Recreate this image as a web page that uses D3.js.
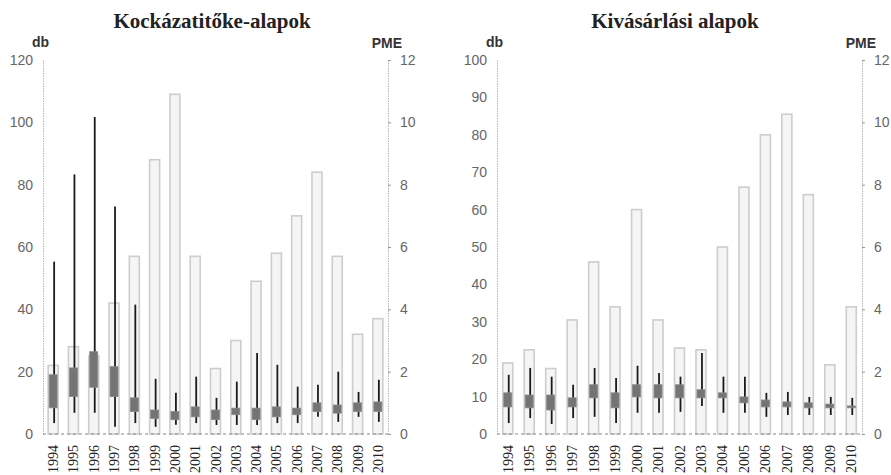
<!DOCTYPE html>
<html>
<head>
<meta charset="utf-8">
<script src="https://cdn.jsdelivr.net/npm/d3@7"></script>
<style>
	body { margin: 0; background: #fff; }
	svg { display: block; }
</style>
</head>
<body>
<svg id="chart" width="891" height="475"></svg>
<script>
const years = ["1994","1995","1996","1997","1998","1999","2000","2001","2002","2003","2004","2005","2006","2007","2008","2009","2010"]

// left panel - Kockázatitőke-alapok
const vcCount = [22, 28, 25, 42, 57, 88, 109, 57, 21, 30, 49, 58, 70, 84, 57, 32, 37]
const vcLow   = [0.35, 0.68, 0.68, 0.23, 0.35, 0.23, 0.30, 0.35, 0.29, 0.29, 0.29, 0.35, 0.35, 0.55, 0.39, 0.55, 0.39]
const vcQ1    = [0.84, 1.20, 1.50, 1.20, 0.72, 0.50, 0.46, 0.55, 0.46, 0.62, 0.46, 0.55, 0.62, 0.72, 0.67, 0.72, 0.72]
const vcQ3    = [1.90, 2.12, 2.64, 2.16, 1.16, 0.77, 0.72, 0.87, 0.77, 0.83, 0.83, 0.87, 0.83, 1.00, 0.93, 1.00, 1.03]
const vcHigh  = [5.53, 8.33, 10.17, 7.30, 4.15, 1.77, 1.32, 1.84, 1.16, 1.68, 2.60, 2.22, 1.52, 1.58, 2.00, 1.35, 1.74]

// right panel - Kivásárlási alapok
const boCount = [19, 22.5, 17.5, 30.5, 46, 34, 60, 30.5, 23, 22.5, 50, 66, 80, 85.5, 64, 18.5, 34]
const boLow   = [0.35, 0.51, 0.32, 0.51, 0.55, 0.35, 0.68, 0.68, 0.71, 0.90, 0.68, 0.68, 0.55, 0.61, 0.61, 0.61, 0.61]
const boQ1    = [0.87, 0.84, 0.77, 0.87, 1.16, 0.84, 1.19, 1.16, 1.16, 1.16, 1.16, 1.00, 0.87, 0.87, 0.84, 0.84, 0.84]
const boQ3    = [1.32, 1.25, 1.25, 1.16, 1.58, 1.32, 1.58, 1.58, 1.58, 1.42, 1.32, 1.19, 1.09, 1.03, 1.00, 0.96, 0.90]
const boHigh  = [1.90, 2.12, 1.84, 1.58, 2.12, 1.80, 2.19, 1.96, 1.84, 2.60, 1.84, 1.84, 1.32, 1.35, 1.19, 1.19, 1.16]

const pmeTicks = [0, 2, 4, 6, 8, 10, 12]

const svg = d3.select("#chart")

drawPanel({
	title: "Kockázatitőke-alapok", titleX: 212,
	x0: 43, x1: 388, dbMax: 120, dbTicks: d3.range(0, 121, 20),
	count: vcCount, low: vcLow, q1: vcQ1, q3: vcQ3, high: vcHigh
})
drawPanel({
	title: "Kivásárlási alapok", titleX: 675,
	x0: 497, x1: 862, dbMax: 100, dbTicks: d3.range(0, 101, 10),
	count: boCount, low: boLow, q1: boQ1, q3: boQ3, high: boHigh
})


function drawPanel(cfg) {
	const top = 60, bottom = 434
	const x = d3.scaleBand().domain(years).range([cfg.x0, cfg.x1])
	const yDb = d3.scaleLinear().domain([0, cfg.dbMax]).range([bottom, top])
	const yPme = d3.scaleLinear().domain([0, 12]).range([bottom, top])
	const g = svg.append("g")
	const rows = years.map((yr, i) => ({yr, n: cfg.count[i], lo: cfg.low[i], q1: cfg.q1[i], q3: cfg.q3[i], hi: cfg.high[i]}))

	// titles
	g.append("text").attr("x", cfg.titleX).attr("y", 28).attr("text-anchor", "middle")
		.attr("font-family", "Liberation Serif, serif").attr("font-weight", "bold").attr("font-size", 21)
		.attr("fill", "#222").text(cfg.title)
	g.append("text").attr("x", cfg.x0 - 11).attr("y", 47).attr("text-anchor", "start")
		.attr("font-family", "Liberation Sans, sans-serif").attr("font-weight", "bold").attr("font-size", 14)
		.attr("fill", "#333").text("db")
	g.append("text").attr("x", cfg.x1 + 14).attr("y", 48).attr("text-anchor", "end")
		.attr("font-family", "Liberation Sans, sans-serif").attr("font-weight", "bold").attr("font-size", 14)
		.attr("fill", "#333").text("PME")

	// count bars (left axis) - pale fill, greyish edges like the scan
	const bw = 10
	g.selectAll("rect.bar").data(rows).join("rect").attr("class", "bar")
		.attr("x", d => x(d.yr) + x.bandwidth() / 2 - bw / 2).attr("width", bw)
		.attr("y", d => yDb(d.n)).attr("height", d => bottom - yDb(d.n))
		.attr("fill", "#f5f5f5").attr("stroke", "#cdcdcd").attr("stroke-width", 1.6)

	// axes
	const left = g.append("g").attr("transform", `translate(${cfg.x0},0)`)
		.call(d3.axisLeft(yDb).tickValues(cfg.dbTicks).tickSize(0).tickPadding(10))
	const right = g.append("g").attr("transform", `translate(${cfg.x1},0)`)
		.call(d3.axisRight(yPme).tickValues(pmeTicks).tickSize(3).tickPadding(9))
	for (const ax of [left, right]) {
		ax.select(".domain").attr("stroke", "#b8b8b8").attr("stroke-dasharray", "1.5,1")
		ax.selectAll(".tick line").attr("stroke", "#999")
		ax.selectAll("text").attr("font-family", "Liberation Sans, sans-serif").attr("font-size", 14).attr("fill", "#666")
	}
	g.append("line").attr("x1", cfg.x0).attr("x2", cfg.x1).attr("y1", bottom).attr("y2", bottom)
		.attr("stroke", "#888").attr("stroke-dasharray", "3,3")

	// year labels, rotated
	g.selectAll("text.yr").data(years).join("text").attr("class", "yr")
		.attr("transform", d => `translate(${x(d) + x.bandwidth() / 2 + 5},445) rotate(-90)`)
		.attr("text-anchor", "end").attr("font-family", "Liberation Serif, serif").attr("font-size", 14)
		.attr("fill", "#222").text(d => d)

	// PME boxes: whisker first, box on top
	const box = 8
	g.selectAll("line.wh").data(rows).join("line").attr("class", "wh")
		.attr("x1", d => x(d.yr) + x.bandwidth() / 2 + 1).attr("x2", d => x(d.yr) + x.bandwidth() / 2 + 1)
		.attr("y1", d => yPme(d.lo)).attr("y2", d => yPme(d.hi))
		.attr("stroke", "#1a1a1a").attr("stroke-width", 1.8)
	g.selectAll("rect.box").data(rows).join("rect").attr("class", "box")
		.attr("x", d => x(d.yr) + x.bandwidth() / 2 - box / 2).attr("width", box)
		.attr("y", d => yPme(d.q3)).attr("height", d => yPme(d.q1) - yPme(d.q3))
		.attr("fill", "#747474").attr("stroke", "#888").attr("stroke-width", 0.8)
}
</script>
</body>
</html>
